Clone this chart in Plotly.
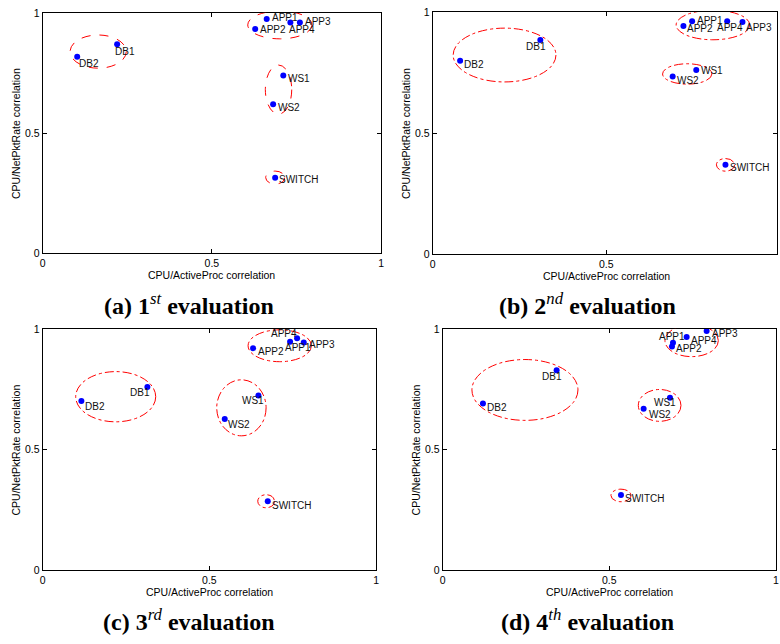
import plotly.graph_objects as go

W, H = 780, 644

names = ["APP1", "APP2", "APP3", "APP4", "DB1", "DB2", "WS1", "WS2", "SWITCH"]

# CPU/ActiveProc correlation (x) and CPU/NetPktRate correlation (y) per evaluation
x_eval1 = [0.662, 0.628, 0.760, 0.732, 0.220, 0.102, 0.711, 0.681, 0.687]
y_eval1 = [0.975, 0.933, 0.960, 0.960, 0.869, 0.818, 0.740, 0.620, 0.314]
x_eval2 = [0.747, 0.722, 0.892, 0.848, 0.310, 0.079, 0.759, 0.691, 0.843]
y_eval2 = [0.961, 0.942, 0.958, 0.961, 0.884, 0.798, 0.760, 0.733, 0.369]
x_eval3 = [0.742, 0.631, 0.783, 0.763, 0.314, 0.116, 0.647, 0.546, 0.675]
y_eval3 = [0.947, 0.920, 0.944, 0.961, 0.759, 0.701, 0.724, 0.627, 0.286]
x_eval4 = [0.691, 0.688, 0.792, 0.732, 0.342, 0.121, 0.682, 0.603, 0.535]
y_eval4 = [0.943, 0.927, 0.991, 0.966, 0.829, 0.691, 0.715, 0.669, 0.312]

# group ellipses: centre x, centre y, radius x, radius y  (APP, DB, WS, SWITCH)
clusters = ["APP", "DB", "WS", "SWITCH"]
ell_eval1 = [(0.701, 0.950, 0.095, 0.058), (0.164, 0.839, 0.083, 0.069),
             (0.697, 0.681, 0.039, 0.102), (0.687, 0.315, 0.028, 0.027)]
ell_eval2 = [(0.807, 0.946, 0.106, 0.061), (0.207, 0.822, 0.148, 0.111),
             (0.733, 0.744, 0.071, 0.042), (0.843, 0.369, 0.026, 0.026)]
ell_eval3 = [(0.711, 0.930, 0.095, 0.066), (0.219, 0.719, 0.120, 0.104),
             (0.596, 0.673, 0.074, 0.116), (0.670, 0.286, 0.025, 0.027)]
ell_eval4 = [(0.747, 0.951, 0.080, 0.066), (0.247, 0.747, 0.159, 0.126),
             (0.651, 0.683, 0.064, 0.066), (0.535, 0.310, 0.030, 0.026)]

tick_vals = [0, 0.5, 1]
tick_text = ["0", "0.5", "1"]

titles = ["<b>(a) 1</b><sup><i>st</i></sup><b> evaluation</b>",
          "<b>(b) 2</b><sup><i>nd</i></sup><b> evaluation</b>",
          "<b>(c) 3</b><sup><i>rd</i></sup><b> evaluation</b>",
          "<b>(d) 4</b><sup><i>th</i></sup><b> evaluation</b>"]

# label placement offsets in pixels (xshift, yshift) relative to each point
lab_off1 = [(4, 1), (4, -1), (4, 1), (-2, -7), (-3, -7), (1, -7), (4, -3), (4, -3), (3, -2)]
lab_off2 = [(4, 1), (3, -3), (3, -5), (-11, -6), (-15, -6), (3, -4), (4, 0), (3, -4), (4, -3)]
lab_off3 = [(-6, -6), (4, -3), (4, -2), (-27, 5), (-18, -5), (3, -5), (-17, -5), (2, -6), (3, -4)]
lab_off4 = [(-15, 6), (3, -2), (4, -2), (3, -3), (-16, -6), (3, -4), (-17, -5), (4, -6), (3, -4)]

# panel geometry in pixels: (left, right, top, bottom) and x-range max
panels = [
    dict(l=40, r=381, t=7, b=252, xmax=1.0, dash="dash"),
    dict(l=433, r=780, t=6, b=253, xmax=(780 - 433) / 350, dash="dashdot"),
    dict(l=40, r=376, t=329, b=575, xmax=1.0, dash="dashdot"),
    dict(l=443, r=779, t=329, b=575, xmax=1.0, dash="dashdot"),
]
title_pos = [(187, 304), (589, 304), (187, 626), (589, 626)]

xs = [x_eval1, x_eval2, x_eval3, x_eval4]
ys = [y_eval1, y_eval2, y_eval3, y_eval4]
ells = [ell_eval1, ell_eval2, ell_eval3, ell_eval4]
offs = [lab_off1, lab_off2, lab_off3, lab_off4]

SANS = "Liberation Sans, Arial, sans-serif"
SERIF = "Liberation Serif, Times New Roman, serif"

fig = go.Figure()
shapes = []
annotations = []
layout_axes = {}

for i, p in enumerate(panels):
    n = i + 1
    xa = "x" if n == 1 else f"x{n}"
    ya = "y" if n == 1 else f"y{n}"
    xkey = "xaxis" if n == 1 else f"xaxis{n}"
    ykey = "yaxis" if n == 1 else f"yaxis{n}"
    common = dict(showgrid=False, zeroline=False, showline=True, linecolor="black",
                  linewidth=1, mirror="ticks", ticks="inside", ticklen=4,
                  tickcolor="black", tickvals=tick_vals, ticktext=tick_text,
                  tickfont=dict(family=SANS, size=10.5, color="black"))
    layout_axes[xkey] = dict(common, domain=[p["l"] / W, p["r"] / W],
                             range=[0, p["xmax"]], anchor=ya)
    layout_axes[ykey] = dict(common, domain=[1 - p["b"] / H, 1 - p["t"] / H],
                             range=[0, 1], anchor=xa)

    fig.add_trace(go.Scatter(x=xs[i], y=ys[i], mode="markers", xaxis=xa, yaxis=ya,
                             marker=dict(color="#0000ff", size=6),
                             showlegend=False, hoverinfo="skip"))

    for (cx, cy, rx, ry) in ells[i]:
        shapes.append(dict(type="circle", xref=xa, yref=ya,
                           x0=cx - rx, x1=cx + rx, y0=cy - ry, y1=cy + ry,
                           line=dict(color="#ff0000", width=1, dash=p["dash"])))

    for name, xv, yv, (dx, dy) in zip(names, xs[i], ys[i], offs[i]):
        annotations.append(dict(x=xv, y=yv, xref=xa, yref=ya, text=name,
                                showarrow=False, xanchor="left", yanchor="middle",
                                xshift=dx, yshift=dy, borderpad=0,
                                font=dict(family=SANS, size=10, color="#111")))

    # axis titles
    xmid_px = p["l"] + (0.5 / p["xmax"]) * (p["r"] - p["l"]) if p["xmax"] < 1 else (p["l"] + p["r"]) / 2
    annotations.append(dict(x=xmid_px / W, y=1 - (p["b"] + 22) / H, xref="paper", yref="paper",
                            text="CPU/ActiveProc correlation", showarrow=False,
                            xanchor="center", yanchor="middle",
                            font=dict(family=SANS, size=10.5, color="black")))
    annotations.append(dict(x=(p["l"] - 27) / W, y=1 - ((p["t"] + p["b"]) / 2) / H,
                            xref="paper", yref="paper", textangle=-90,
                            text="CPU/NetPktRate correlation", showarrow=False,
                            xanchor="center", yanchor="middle",
                            font=dict(family=SANS, size=10.5, color="black")))
    tx, ty = title_pos[i]
    annotations.append(dict(x=tx / W, y=1 - ty / H, xref="paper", yref="paper",
                            text=titles[i], showarrow=False, xanchor="center",
                            yanchor="middle",
                            font=dict(family=SERIF, size=24, color="black")))

fig.update_layout(width=W, height=H, margin=dict(l=0, r=0, t=0, b=0),
                  paper_bgcolor="white", plot_bgcolor="white",
                  shapes=shapes, annotations=annotations, showlegend=False,
                  **layout_axes)

fig.write_html("out.html")
